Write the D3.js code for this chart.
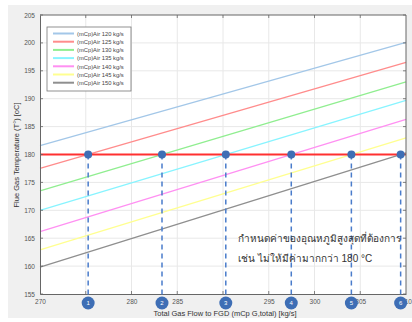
<!DOCTYPE html>
<html lang="th">
<head>
  <meta charset="UTF-8">
  <title>Flue Gas Temperature vs Total Gas Flow</title>
  <style>
    body { margin: 0; background: #fff; }
    svg { display: block; }
    text { font-family: "Liberation Sans", Arial, sans-serif; }
  </style>
</head>
<body>
  <svg width="412" height="322"></svg>
  <script src="https://d3js.org/d3.v7.min.js"></script>
  <script>
    // series: air flow (mCp)Air in kg/s, temperature at flow 270 and 310
    const airFlows = [120, 125, 130, 135, 140, 145, 150];
    const tempAt270 = [181.6, 177.5, 173.5, 170.0, 166.2, 162.9, 159.8];
    const tempAt310 = [200.1, 196.5, 193.0, 189.7, 186.3, 183.0, 180.3];
    const flowEnds = [270, 310];
    const colors = ["#a3c7e8", "#ff8c8c", "#90ee90", "#88f4ff", "#ff90f2", "#ffff90", "#8f8f8f"];
    const limitTemp = 180;
    const xTicks = [270, 280, 285, 295, 300, 305, 310];
    const yTicks = [155, 160, 165, 170, 175, 180, 185, 190, 195, 200, 205];
    const gridX = [275, 280, 285, 290, 295, 300, 305];
    const note = ["กำหนดค่าของอุณหภูมิสูงสุดที่ต้องการ", "เช่น ไม่ให้มีค่ามากกว่า 180 °C"];

    const svg = d3.select("svg");
    const x = d3.scaleLinear().domain([270, 310]).range([40, 406]);
    const y = d3.scaleLinear().domain([155, 205]).range([294, 15]);

    // figure background
    svg.append("rect").attr("x", 8).attr("y", 5).attr("width", 404).attr("height", 313).attr("fill", "#f0f0f0");
    svg.append("rect").attr("x", x(270)).attr("y", y(205))
      .attr("width", x(310) - x(270)).attr("height", y(155) - y(205)).attr("fill", "#fff");

    // grid
    svg.append("g").selectAll("line").data(gridX).join("line")
      .attr("x1", d => x(d)).attr("x2", d => x(d)).attr("y1", y(155)).attr("y2", y(205))
      .attr("stroke", "#e8e8e8").attr("stroke-width", 1);
    svg.append("g").selectAll("line").data(yTicks.slice(1, -1)).join("line")
      .attr("x1", x(270)).attr("x2", x(310)).attr("y1", d => y(d)).attr("y2", d => y(d))
      .attr("stroke", "#e8e8e8").attr("stroke-width", 1);

    // series lines
    const line = d3.line().x(d => x(d[0])).y(d => y(d[1]));
    airFlows.forEach((f, i) => {
      svg.append("path")
        .datum([[flowEnds[0], tempAt270[i]], [flowEnds[1], tempAt310[i]]])
        .attr("d", line).attr("fill", "none")
        .attr("stroke", colors[i]).attr("stroke-width", 1.3);
    });

    // limit line
    svg.append("line")
      .attr("x1", x(270)).attr("x2", x(310)).attr("y1", y(limitTemp)).attr("y2", y(limitTemp))
      .attr("stroke", "#ff3030").attr("stroke-width", 2.2);

    // crossings of each series with the limit
    const crossings = [];
    airFlows.forEach((f, i) => {
      const a = tempAt270[i], b = tempAt310[i];
      if (a < limitTemp && b > limitTemp) {
        crossings.push(flowEnds[0] + (limitTemp - a) / (b - a) * (flowEnds[1] - flowEnds[0]));
      }
    });

    // axes
    const axisColor = "#666";
    const xAxis = svg.append("g").attr("transform", `translate(0,${y(155)})`)
      .call(d3.axisBottom(x).tickValues(xTicks).tickSize(0).tickPadding(5));
    const yAxis = svg.append("g").attr("transform", `translate(${x(270)},0)`)
      .call(d3.axisLeft(y).tickValues(yTicks).tickSize(0).tickPadding(5));
    [xAxis, yAxis].forEach(g => {
      g.select(".domain").attr("stroke", axisColor);
      g.selectAll("text").attr("font-size", 6.5).attr("fill", "#555");
    });
    // inner tick marks on all sides
    const tickG = svg.append("g").attr("stroke", axisColor).attr("stroke-width", 0.8);
    gridX.forEach(v => {
      tickG.append("line").attr("x1", x(v)).attr("x2", x(v)).attr("y1", y(155)).attr("y2", y(155) - 3);
      tickG.append("line").attr("x1", x(v)).attr("x2", x(v)).attr("y1", y(205)).attr("y2", y(205) + 3);
    });
    yTicks.forEach(v => {
      tickG.append("line").attr("x1", x(270)).attr("x2", x(270) + 3).attr("y1", y(v)).attr("y2", y(v));
      tickG.append("line").attr("x1", x(310)).attr("x2", x(310) - 3).attr("y1", y(v)).attr("y2", y(v));
    });
    svg.append("line").attr("x1", x(270)).attr("x2", x(310)).attr("y1", y(205)).attr("y2", y(205)).attr("stroke", axisColor);
    svg.append("line").attr("x1", x(310)).attr("x2", x(310)).attr("y1", y(205)).attr("y2", y(155)).attr("stroke", axisColor);

    // dashed drop lines, markers and numbered circles
    const markG = svg.append("g");
    markG.selectAll("line").data(crossings).join("line")
      .attr("x1", d => x(d)).attr("x2", d => x(d)).attr("y1", y(limitTemp)).attr("y2", y(155) + 9)
      .attr("stroke", "#4a7ccb").attr("stroke-width", 1.5).attr("stroke-dasharray", "5,4");
    markG.selectAll("circle.pt").data(crossings).join("circle").attr("class", "pt")
      .attr("cx", d => x(d)).attr("cy", y(limitTemp)).attr("r", 4)
      .attr("fill", "#3e6eb5");
    markG.selectAll("circle.num").data(crossings).join("circle").attr("class", "num")
      .attr("cx", d => x(d)).attr("cy", y(155) + 9).attr("r", 6.5)
      .attr("fill", "#3e6eb5");
    markG.selectAll("text").data(crossings).join("text")
      .attr("x", d => x(d)).attr("y", y(155) + 11.3)
      .attr("text-anchor", "middle").attr("font-size", 6).attr("fill", "#fff")
      .text((d, i) => i + 1);

    // axis labels
    svg.append("text").attr("x", 225).attr("y", 316).attr("text-anchor", "middle")
      .attr("font-size", 7.5).attr("fill", "#333")
      .text("Total Gas Flow to FGD (mCp G,total) [kg/s]");
    svg.append("text").attr("transform", "translate(19,155) rotate(-90)").attr("text-anchor", "middle")
      .attr("font-size", 7.5).attr("fill", "#333")
      .text("Flue Gas Temperature (T°) [oC]");

    // legend
    const lg = svg.append("g").attr("transform", "translate(47,27)");
    lg.append("rect").attr("width", 84).attr("height", 64)
      .attr("fill", "#fff").attr("stroke", "#777").attr("stroke-width", 0.8);
    airFlows.forEach((f, i) => {
      const yy = 6.5 + i * 8.2;
      lg.append("line").attr("x1", 6).attr("x2", 27).attr("y1", yy).attr("y2", yy)
        .attr("stroke", colors[i]).attr("stroke-width", 2);
      lg.append("text").attr("x", 30).attr("y", yy + 2.2).attr("font-size", 5.8).attr("fill", "#444")
        .text(`(mCp)Air ${f} kg/s`);
    });

    // annotation
    svg.append("g").selectAll("text").data(note).join("text")
      .attr("x", 238).attr("y", (d, i) => 242 + i * 20)
      .attr("font-family", "'Noto Sans', sans-serif").attr("font-size", 10).attr("fill", "#333")
      .text(d => d);
  </script>
</body>
</html>
